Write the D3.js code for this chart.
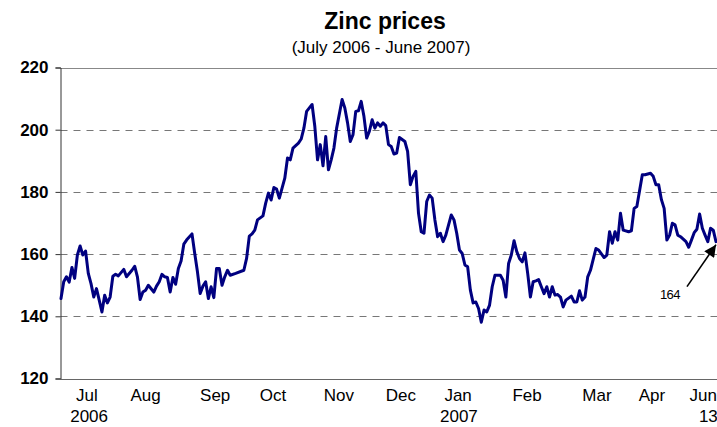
<!DOCTYPE html>
<html>
<head>
<meta charset="utf-8">
<script src="https://cdn.jsdelivr.net/npm/d3@7"></script>
<style>
  html, body { margin: 0; padding: 0; background: #fff; }
  svg { display: block; font-family: "Liberation Sans", Arial, sans-serif; }
</style>
</head>
<body>
<script>
// ---- Data ----
const tradingDay = [0,1,2,3,4,5,6,7,8,9,10,11,12,13,14,15,16,17,18,19,20,21,23,24,26,27,28,29,30,31,32,34,35,36,37,38,39,40,41,42,43,44,45,46,48,49,50,51,52,53,54,55,56,57,58,59,60,61,62,64,67,68,69,70,71,72,74,75,76,77,78,79,80,81,82,83,84,85,87,88,89,90,91,92,93,94,95,96,97,98,99,100,101,103,104,105,106,107,108,109,110,111,112,113,114,115,116,117,118,119,120,121,122,123,124,126,127,128,129,130,131,132,133,134,135,136,137,138,139,140,141,143,144,145,146,147,148,149,150,151,152,153,154,155,156,157,158,159,161,162,163,164,165,166,167,168,169,170,171,172,173,174,175,176,177,178,179,180,181,182,183,184,185,187,188,189,190,191,192,193,194,196,197,199,200,201,202,203,204,205,206,208,209,210,211,213,214,216,217,218,219,220,221,222,223,224,225,226,227,229,230,231,232,233,234,235,236,237,238,239,240];
const price = [145.7,151.1,152.7,151.0,155.7,152.2,159.7,162.6,159.7,161.0,153.8,150.5,146.2,148.9,145.2,141.4,146.8,144.3,146.2,152.9,153.5,153.0,155.1,152.7,154.8,156.1,152.7,145.4,147.8,148.4,150.0,147.8,149.7,151.1,153.5,152.7,152.5,147.8,152.5,150.3,155.4,157.8,163.2,164.5,166.5,160.2,154.3,147.3,149.7,151.1,145.7,149.5,146.0,155.4,155.4,150.0,152.7,154.8,153.2,153.8,154.8,158.6,165.8,166.5,167.7,171.0,172.3,176.4,179.6,177.4,181.4,180.9,178.0,181.2,184.4,190.9,190.3,194.1,195.7,197.0,200.5,205.9,207.0,208.1,201.1,190.3,195.2,188.4,197.8,187.1,190.3,194.1,200.5,209.7,207.0,202.2,196.2,198.4,205.9,206.1,209.1,204.3,197.3,199.5,203.2,200.5,202.2,201.1,202.2,201.3,195.2,194.6,192.2,192.5,197.5,196.2,193.0,182.3,185.0,186.6,173.1,167.2,166.7,176.9,179.0,178.0,171.0,165.6,166.7,164.0,166.1,172.6,171.0,166.7,161.3,160.2,156.5,155.9,148.4,144.3,144.6,142.5,138.1,142.0,141.4,143.5,149.5,153.2,153.2,151.6,146.2,157.0,159.7,164.3,160.8,158.6,157.5,160.4,153.8,146.2,151.1,151.4,151.8,149.5,147.3,149.5,146.2,149.5,146.8,147.0,146.2,143.0,145.2,146.5,144.6,144.6,148.2,145.2,146.2,152.7,154.8,161.8,161.3,158.9,159.7,167.2,163.5,167.2,164.5,173.1,167.7,167.2,167.5,174.7,175.3,185.5,185.5,186.0,185.0,182.3,182.3,177.5,174.7,164.5,166.1,169.9,169.4,166.1,165.6,164.0,162.2,164.5,166.9,168.0,172.9,168.3,166.1,164.0,168.3,167.7,164.0];

const yTicks = [120,140,160,180,200,220];
const monthLabels = ["Jul","Aug","Sep","Oct","Nov","Dec","Jan","Feb","Mar","Apr","Jun"];
const monthLabelDay = [9.5,31,56.5,77.7,101.8,124.5,145.5,170.8,196.4,216.5,235.3];
const yearLabels = ["2006","2007","13"];
const yearLabelDay = [10.3,145.8,237.2];
const titleText = "Zinc prices";
const subtitleText = "(July 2006 - June 2007)";
const lastLabel = "164";

// ---- Chart ----
const W = 717, H = 427;
const svg = d3.select("body").append("svg").attr("width", W).attr("height", H);

const x = d3.scaleLinear().domain([0, 240]).range([61, 716]);
const y = d3.scaleLinear().domain([120, 220]).range([378.5, 67.5]);
const plotLeft = 60.5, plotRight = 720;

// title
svg.append("text").attr("x", 385).attr("y", 29).attr("text-anchor", "middle")
  .attr("font-size", 23).attr("font-weight", "bold").text(titleText);
svg.append("text").attr("x", 381).attr("y", 53).attr("text-anchor", "middle")
  .attr("font-size", 17).text(subtitleText);

// gridlines
svg.append("g").selectAll("line").data(yTicks.filter(d => d > 120 && d < 220)).join("line")
  .attr("x1", plotLeft).attr("x2", plotRight)
  .attr("y1", d => Math.round(y(d)) + 0.5).attr("y2", d => Math.round(y(d)) + 0.5)
  .attr("stroke", "#777").attr("stroke-width", 1).attr("stroke-dasharray", "7,6");
// top border
svg.append("line").attr("x1", plotLeft).attr("x2", plotRight)
  .attr("y1", Math.round(y(220)) + 0.5).attr("y2", Math.round(y(220)) + 0.5)
  .attr("stroke", "#888").attr("stroke-width", 1);
// x axis line
svg.append("line").attr("x1", plotLeft).attr("x2", plotRight)
  .attr("y1", Math.round(y(120)) + 0.5).attr("y2", Math.round(y(120)) + 0.5)
  .attr("stroke", "#666").attr("stroke-width", 1);

// y axis
const yAxis = svg.append("g").attr("transform", `translate(${plotLeft},0)`)
  .call(d3.axisLeft(y).tickValues(yTicks).tickSize(5).tickPadding(7).tickFormat(d3.format("d")));
yAxis.select(".domain").attr("stroke", "#333");
yAxis.selectAll(".tick line").attr("stroke", "#333");
yAxis.selectAll(".tick text").attr("font-size", 17).attr("font-weight", "bold")
  .attr("font-family", "Liberation Sans, Arial, sans-serif").attr("fill", "#000");

// x labels
svg.append("g").selectAll("text").data(monthLabels).join("text")
  .attr("x", (d, i) => x(monthLabelDay[i])).attr("y", 401)
  .attr("text-anchor", "middle").attr("font-size", 17).text(d => d);
svg.append("g").selectAll("text").data(yearLabels).join("text")
  .attr("x", (d, i) => x(yearLabelDay[i])).attr("y", 422)
  .attr("text-anchor", "middle").attr("font-size", 17).text(d => d);

// line
const pts = tradingDay.map((d, i) => [d, price[i]]);
svg.append("path").datum(pts)
  .attr("fill", "none").attr("stroke", "#000080").attr("stroke-width", 3)
  .attr("stroke-linejoin", "round").attr("stroke-linecap", "round")
  .attr("d", d3.line().x(d => x(d[0])).y(d => y(d[1])));

// annotation arrow
const defs = svg.append("defs");
defs.append("marker").attr("id", "arr").attr("viewBox", "0 0 10 10")
  .attr("refX", 10).attr("refY", 5).attr("markerWidth", 17).attr("markerHeight", 12)
  .attr("markerUnits", "userSpaceOnUse").attr("orient", "auto")
  .append("path").attr("d", "M0,0 L10,5 L0,10 z").attr("fill", "#000");
const lastX = x(tradingDay[tradingDay.length - 1]), lastY = y(price[price.length - 1]);
svg.append("line").attr("x1", lastX - 29).attr("y1", lastY + 45)
  .attr("x2", lastX).attr("y2", lastY + 3)
  .attr("stroke", "#000").attr("stroke-width", 1.6).attr("marker-end", "url(#arr)");
svg.append("text").attr("x", lastX - 46).attr("y", lastY + 57).attr("text-anchor", "middle")
  .attr("font-size", 13).attr("letter-spacing", -0.5).text(lastLabel);
</script>
</body>
</html>
